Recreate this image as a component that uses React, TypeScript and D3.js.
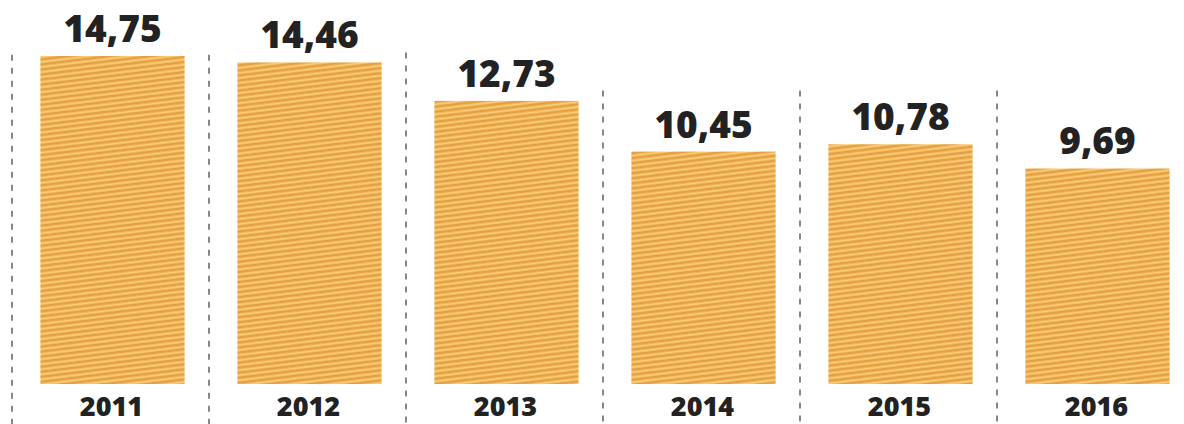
import React from "react";
import * as d3 from "d3";

const years = ["2011", "2012", "2013", "2014", "2015", "2016"];
const values = [14.75, 14.46, 12.73, 10.45, 10.78, 9.69];
const valueLabels = ["14,75", "14,46", "12,73", "10,45", "10,78", "9,69"];
// top of the dashed separator to the left of each bar (in value units)
const separatorTops = [14.8, 14.8, 14.9, 13.2, 13.2, 13.2];

const W = 1184;
const H = 424;

export default function App() {
  const x = d3.scaleBand<string>().domain(years).range([12, 1194]).paddingInner(0).paddingOuter(0);
  const y = d3.scaleLinear().domain([0, 15]).range([384, 384 - 15 * 22.24]);
  const step = x.step();
  const barW = step * 0.732;
  const font = "'Open Sans', 'DejaVu Sans', sans-serif";

  return (
    <svg width={W} height={H} style={{ position: "absolute", left: 0, top: 0, background: "#fff" }}>
      <defs>
        <pattern id="stripes" patternUnits="userSpaceOnUse" width="12" height="5" patternTransform="rotate(-7)">
          <rect x="0" y="0" width="12" height="5" fill="#ECA746" />
          <rect x="0" y="0.6" width="12" height="1.9" fill="#F8CF7C" />
          <rect x="0" y="3.4" width="12" height="0.9" fill="#E0963C" />
        </pattern>
      </defs>
      <rect width={W} height={H} fill="#fff" />
      {years.map((yr, i) => {
        const x0 = x(yr)!;
        const cx = x0 + step / 2 + 2;
        const top = y(values[i]);
        return (
          <g key={yr}>
            <line
              x1={x0}
              x2={x0}
              y1={y(separatorTops[i])}
              y2={H}
              stroke="#555"
              strokeWidth={1.4}
              strokeDasharray="6 7"
            />
            <rect x={cx - barW / 2} y={top} width={barW} height={y(0) - top} fill="url(#stripes)" />
            <text
              x={cx}
              y={top - 14}
              textAnchor="middle"
              fontFamily={font}
              fontWeight={800}
              fontSize={37}
              fill="#222"
            >
              {valueLabels[i]}
            </text>
            <text
              x={cx - 1}
              y={416}
              textAnchor="middle"
              fontFamily={font}
              fontWeight={800}
              fontSize={27}
              fill="#222"
            >
              {yr}
            </text>
          </g>
        );
      })}
    </svg>
  );
}
